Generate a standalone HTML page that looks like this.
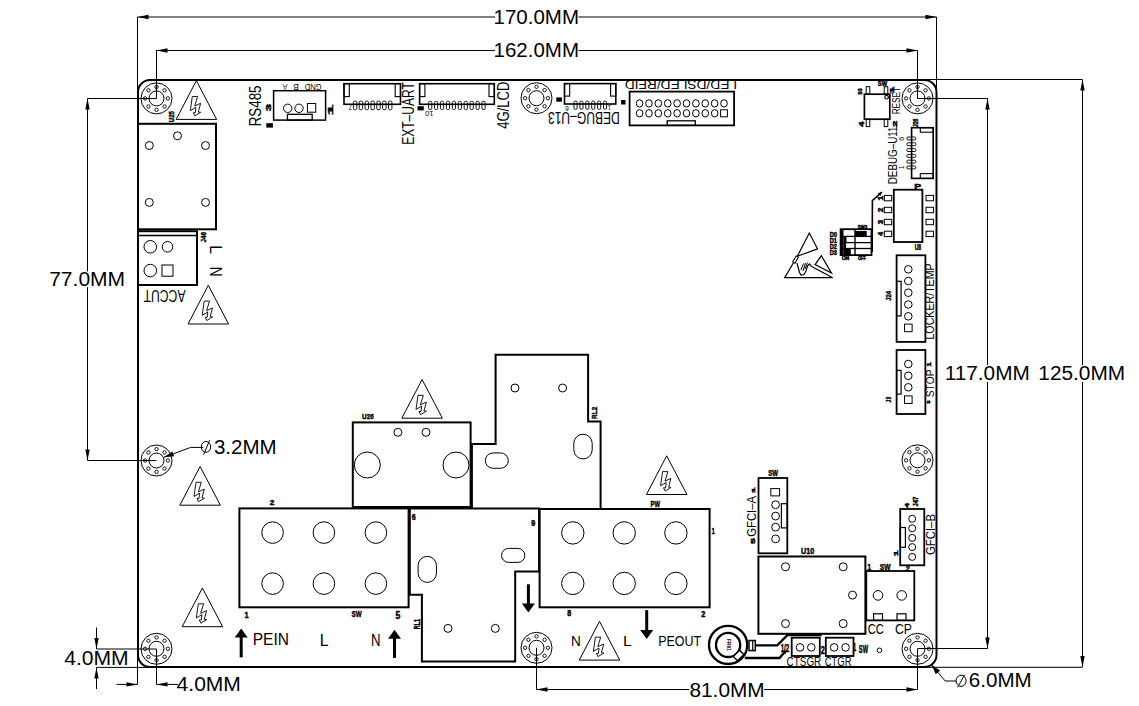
<!DOCTYPE html>
<html><head><meta charset="utf-8"><style>
text{fill:#000;stroke:none;font-family:"Liberation Sans", sans-serif;}

html,body{margin:0;padding:0;background:#fff;}
svg{display:block;}
</style></head><body>
<svg width="1139" height="706" viewBox="0 0 1139 706" fill="#000" stroke="#000">
<g>
<line x1="137.5" y1="17" x2="495" y2="17" stroke-width="1"/>
<line x1="578.5" y1="17" x2="936.5" y2="17" stroke-width="1"/>
<polygon points="137.5,17 148.5,14.8 148.5,19.2" stroke="none" fill="#000"/>
<polygon points="936.5,17 925.5,19.2 925.5,14.8" stroke="none" fill="#000"/>
<line x1="137.5" y1="17" x2="137.5" y2="90" stroke-width="1"/>
<line x1="936.5" y1="17" x2="936.5" y2="92" stroke-width="1"/>
<text x="493.56" y="23.8" font-size="19.72" textLength="85.45" lengthAdjust="spacingAndGlyphs">170.0MM</text>
<line x1="156.5" y1="50.5" x2="495" y2="50.5" stroke-width="1"/>
<line x1="578.5" y1="50.5" x2="917.5" y2="50.5" stroke-width="1"/>
<polygon points="156.5,50.5 167.5,48.3 167.5,52.7" stroke="none" fill="#000"/>
<polygon points="917.5,50.5 906.5,52.7 906.5,48.3" stroke="none" fill="#000"/>
<line x1="156.5" y1="50.5" x2="156.5" y2="98.5" stroke-width="1"/>
<line x1="917.5" y1="50.5" x2="917.5" y2="98.5" stroke-width="1"/>
<text x="493.56" y="56.7" font-size="19.58" textLength="85.45" lengthAdjust="spacingAndGlyphs">162.0MM</text>
<line x1="87.5" y1="98.5" x2="156.5" y2="98.5" stroke-width="1"/>
<line x1="87.5" y1="460.5" x2="156.5" y2="460.5" stroke-width="1"/>
<line x1="87.5" y1="98.5" x2="87.5" y2="271.4" stroke-width="1"/>
<line x1="87.5" y1="287.2" x2="87.5" y2="460.5" stroke-width="1"/>
<polygon points="87.5,98.5 89.7,109.5 85.3,109.5" stroke="none" fill="#000"/>
<polygon points="87.5,460.5 85.3,449.5 89.7,449.5" stroke="none" fill="#000"/>
<text x="49.15" y="285.7" font-size="19.86" textLength="75.99" lengthAdjust="spacingAndGlyphs">77.0MM</text>
<line x1="917.5" y1="98.5" x2="987.5" y2="98.5" stroke-width="1"/>
<line x1="917.5" y1="648.5" x2="987.5" y2="648.5" stroke-width="1"/>
<line x1="987.5" y1="98.5" x2="987.5" y2="365" stroke-width="1"/>
<line x1="987.5" y1="382" x2="987.5" y2="648.5" stroke-width="1"/>
<polygon points="987.5,98.5 989.7,109.5 985.3,109.5" stroke="none" fill="#000"/>
<polygon points="987.5,648.5 985.3,637.5 989.7,637.5" stroke="none" fill="#000"/>
<line x1="925" y1="79.5" x2="1082.5" y2="79.5" stroke-width="1"/>
<line x1="925" y1="667.3" x2="1082.5" y2="667.3" stroke-width="1"/>
<line x1="1082.5" y1="79.5" x2="1082.5" y2="365" stroke-width="1"/>
<line x1="1082.5" y1="382" x2="1082.5" y2="667" stroke-width="1"/>
<polygon points="1082.5,79.5 1084.7,90.5 1080.3,90.5" stroke="none" fill="#000"/>
<polygon points="1082.5,667 1080.3,656 1084.7,656" stroke="none" fill="#000"/>
<text x="944.74" y="379.9" font-size="20" textLength="85.01" lengthAdjust="spacingAndGlyphs">117.0MM</text>
<text x="1038.34" y="379.9" font-size="20" textLength="86.8" lengthAdjust="spacingAndGlyphs">125.0MM</text>
<line x1="96.5" y1="649" x2="156.5" y2="649" stroke-width="1"/>
<line x1="96.5" y1="667.4" x2="152" y2="667.4" stroke-width="1"/>
<line x1="96.5" y1="627.5" x2="96.5" y2="649" stroke-width="1"/>
<line x1="96.5" y1="667.5" x2="96.5" y2="689" stroke-width="1"/>
<polygon points="96.5,649 94.3,638 98.7,638" stroke="none" fill="#000"/>
<polygon points="96.5,667.5 98.7,678.5 94.3,678.5" stroke="none" fill="#000"/>
<text x="64.18" y="664.61" font-size="19.44" textLength="64.54" lengthAdjust="spacingAndGlyphs">4.0MM</text>
<line x1="137.5" y1="650" x2="137.5" y2="684.4" stroke-width="1"/>
<line x1="156.5" y1="649" x2="156.5" y2="684.4" stroke-width="1"/>
<line x1="116.5" y1="684.4" x2="137.5" y2="684.4" stroke-width="1"/>
<line x1="156.5" y1="684.4" x2="178" y2="684.4" stroke-width="1"/>
<polygon points="137.5,684.4 126.5,686.6 126.5,682.2" stroke="none" fill="#000"/>
<polygon points="156.5,684.4 167.5,682.2 167.5,686.6" stroke="none" fill="#000"/>
<text x="176.58" y="690.7" font-size="20" textLength="64.33" lengthAdjust="spacingAndGlyphs">4.0MM</text>
<line x1="536.5" y1="647.8" x2="536.5" y2="689.5" stroke-width="1"/>
<line x1="917.5" y1="648.8" x2="917.5" y2="689.5" stroke-width="1"/>
<line x1="536.5" y1="689.5" x2="689" y2="689.5" stroke-width="1"/>
<line x1="764" y1="689.5" x2="917.5" y2="689.5" stroke-width="1"/>
<polygon points="536.5,689.5 547.5,687.3 547.5,691.7" stroke="none" fill="#000"/>
<polygon points="917.5,689.5 906.5,691.7 906.5,687.3" stroke="none" fill="#000"/>
<text x="689.46" y="696.9" font-size="20" textLength="75.25" lengthAdjust="spacingAndGlyphs">81.0MM</text>
<polygon points="163.9,457.3 172.37,451.39 174.18,456.26" stroke="none" fill="#000"/>
<polyline points="163.9,457.3 190.6,447.4 203.3,447.4" stroke-width="1" fill="none"/>
<ellipse cx="206" cy="446.9" rx="4.7" ry="5.4" stroke-width="1" fill="none"/>
<line x1="203.6" y1="454.8" x2="209.6" y2="440.2" stroke-width="1"/>
<text x="213.98" y="453.7" font-size="19.58" textLength="62.69" lengthAdjust="spacingAndGlyphs">3.2MM</text>
<polygon points="931.5,664.7 940.08,670.55 935.79,674.16" stroke="none" fill="#000"/>
<polyline points="931.5,664.7 945.2,681 956.2,681" stroke-width="1" fill="none"/>
<ellipse cx="961.1" cy="680.8" rx="5" ry="5.6" stroke-width="1" fill="none"/>
<line x1="957.6" y1="687.4" x2="964.6" y2="674.7" stroke-width="1"/>
<text x="968.87" y="687.4" font-size="19.72" textLength="62.8" lengthAdjust="spacingAndGlyphs">6.0MM</text>
<rect x="138" y="80" width="798.5" height="587" rx="12" stroke-width="2" fill="none"/>
<circle cx="156.5" cy="98.4" r="15.5" stroke-width="1" fill="none"/>
<circle cx="156.5" cy="98.4" r="7.5" stroke-width="1" fill="none"/>
<circle cx="167.9" cy="98.4" r="1.7" stroke-width="0.9" fill="none"/>
<circle cx="164.56" cy="106.46" r="1.7" stroke-width="0.9" fill="none"/>
<circle cx="156.5" cy="109.8" r="1.7" stroke-width="0.9" fill="none"/>
<circle cx="148.44" cy="106.46" r="1.7" stroke-width="0.9" fill="none"/>
<circle cx="145.1" cy="98.4" r="1.7" stroke-width="0.9" fill="none"/>
<circle cx="148.44" cy="90.34" r="1.7" stroke-width="0.9" fill="none"/>
<circle cx="156.5" cy="87" r="1.7" stroke-width="0.9" fill="none"/>
<circle cx="164.56" cy="90.34" r="1.7" stroke-width="0.9" fill="none"/>
<circle cx="536.5" cy="98.2" r="15.5" stroke-width="1" fill="none"/>
<circle cx="536.5" cy="98.2" r="7.5" stroke-width="1" fill="none"/>
<circle cx="547.9" cy="98.2" r="1.7" stroke-width="0.9" fill="none"/>
<circle cx="544.56" cy="106.26" r="1.7" stroke-width="0.9" fill="none"/>
<circle cx="536.5" cy="109.6" r="1.7" stroke-width="0.9" fill="none"/>
<circle cx="528.44" cy="106.26" r="1.7" stroke-width="0.9" fill="none"/>
<circle cx="525.1" cy="98.2" r="1.7" stroke-width="0.9" fill="none"/>
<circle cx="528.44" cy="90.14" r="1.7" stroke-width="0.9" fill="none"/>
<circle cx="536.5" cy="86.8" r="1.7" stroke-width="0.9" fill="none"/>
<circle cx="544.56" cy="90.14" r="1.7" stroke-width="0.9" fill="none"/>
<circle cx="917.5" cy="98.4" r="15.5" stroke-width="1" fill="none"/>
<circle cx="917.5" cy="98.4" r="7.5" stroke-width="1" fill="none"/>
<circle cx="928.9" cy="98.4" r="1.7" stroke-width="0.9" fill="none"/>
<circle cx="925.56" cy="106.46" r="1.7" stroke-width="0.9" fill="none"/>
<circle cx="917.5" cy="109.8" r="1.7" stroke-width="0.9" fill="none"/>
<circle cx="909.44" cy="106.46" r="1.7" stroke-width="0.9" fill="none"/>
<circle cx="906.1" cy="98.4" r="1.7" stroke-width="0.9" fill="none"/>
<circle cx="909.44" cy="90.34" r="1.7" stroke-width="0.9" fill="none"/>
<circle cx="917.5" cy="87" r="1.7" stroke-width="0.9" fill="none"/>
<circle cx="925.56" cy="90.34" r="1.7" stroke-width="0.9" fill="none"/>
<circle cx="156.5" cy="460.5" r="15.5" stroke-width="1" fill="none"/>
<circle cx="156.5" cy="460.5" r="7.5" stroke-width="1" fill="none"/>
<circle cx="167.9" cy="460.5" r="1.7" stroke-width="0.9" fill="none"/>
<circle cx="164.56" cy="468.56" r="1.7" stroke-width="0.9" fill="none"/>
<circle cx="156.5" cy="471.9" r="1.7" stroke-width="0.9" fill="none"/>
<circle cx="148.44" cy="468.56" r="1.7" stroke-width="0.9" fill="none"/>
<circle cx="145.1" cy="460.5" r="1.7" stroke-width="0.9" fill="none"/>
<circle cx="148.44" cy="452.44" r="1.7" stroke-width="0.9" fill="none"/>
<circle cx="156.5" cy="449.1" r="1.7" stroke-width="0.9" fill="none"/>
<circle cx="164.56" cy="452.44" r="1.7" stroke-width="0.9" fill="none"/>
<circle cx="917.5" cy="460.3" r="15.5" stroke-width="1" fill="none"/>
<circle cx="917.5" cy="460.3" r="7.5" stroke-width="1" fill="none"/>
<circle cx="928.9" cy="460.3" r="1.7" stroke-width="0.9" fill="none"/>
<circle cx="925.56" cy="468.36" r="1.7" stroke-width="0.9" fill="none"/>
<circle cx="917.5" cy="471.7" r="1.7" stroke-width="0.9" fill="none"/>
<circle cx="909.44" cy="468.36" r="1.7" stroke-width="0.9" fill="none"/>
<circle cx="906.1" cy="460.3" r="1.7" stroke-width="0.9" fill="none"/>
<circle cx="909.44" cy="452.24" r="1.7" stroke-width="0.9" fill="none"/>
<circle cx="917.5" cy="448.9" r="1.7" stroke-width="0.9" fill="none"/>
<circle cx="925.56" cy="452.24" r="1.7" stroke-width="0.9" fill="none"/>
<circle cx="156.5" cy="648.8" r="15.5" stroke-width="1" fill="none"/>
<circle cx="156.5" cy="648.8" r="7.5" stroke-width="1" fill="none"/>
<circle cx="167.9" cy="648.8" r="1.7" stroke-width="0.9" fill="none"/>
<circle cx="164.56" cy="656.86" r="1.7" stroke-width="0.9" fill="none"/>
<circle cx="156.5" cy="660.2" r="1.7" stroke-width="0.9" fill="none"/>
<circle cx="148.44" cy="656.86" r="1.7" stroke-width="0.9" fill="none"/>
<circle cx="145.1" cy="648.8" r="1.7" stroke-width="0.9" fill="none"/>
<circle cx="148.44" cy="640.74" r="1.7" stroke-width="0.9" fill="none"/>
<circle cx="156.5" cy="637.4" r="1.7" stroke-width="0.9" fill="none"/>
<circle cx="164.56" cy="640.74" r="1.7" stroke-width="0.9" fill="none"/>
<circle cx="536.5" cy="647.8" r="15.5" stroke-width="1" fill="none"/>
<circle cx="536.5" cy="647.8" r="7.5" stroke-width="1" fill="none"/>
<circle cx="547.9" cy="647.8" r="1.7" stroke-width="0.9" fill="none"/>
<circle cx="544.56" cy="655.86" r="1.7" stroke-width="0.9" fill="none"/>
<circle cx="536.5" cy="659.2" r="1.7" stroke-width="0.9" fill="none"/>
<circle cx="528.44" cy="655.86" r="1.7" stroke-width="0.9" fill="none"/>
<circle cx="525.1" cy="647.8" r="1.7" stroke-width="0.9" fill="none"/>
<circle cx="528.44" cy="639.74" r="1.7" stroke-width="0.9" fill="none"/>
<circle cx="536.5" cy="636.4" r="1.7" stroke-width="0.9" fill="none"/>
<circle cx="544.56" cy="639.74" r="1.7" stroke-width="0.9" fill="none"/>
<circle cx="917.5" cy="648.8" r="15.5" stroke-width="1" fill="none"/>
<circle cx="917.5" cy="648.8" r="7.5" stroke-width="1" fill="none"/>
<circle cx="928.9" cy="648.8" r="1.7" stroke-width="0.9" fill="none"/>
<circle cx="925.56" cy="656.86" r="1.7" stroke-width="0.9" fill="none"/>
<circle cx="917.5" cy="660.2" r="1.7" stroke-width="0.9" fill="none"/>
<circle cx="909.44" cy="656.86" r="1.7" stroke-width="0.9" fill="none"/>
<circle cx="906.1" cy="648.8" r="1.7" stroke-width="0.9" fill="none"/>
<circle cx="909.44" cy="640.74" r="1.7" stroke-width="0.9" fill="none"/>
<circle cx="917.5" cy="637.4" r="1.7" stroke-width="0.9" fill="none"/>
<circle cx="925.56" cy="640.74" r="1.7" stroke-width="0.9" fill="none"/>
<polygon points="196.4,80.7 176.15,119.4 216.65,119.4" stroke-width="1" fill="none"/>
<polygon points="192.3,96.5 197.6,96.5 194.7,106 200.6,103.3 198.3,112.1 200.7,112.3 194.9,115.9 193.3,112.7 195.3,112.7 195.9,107.3 190.3,110.7" stroke-width="0.9" fill="none"/>
<polygon points="208.3,285.3 188.05,324 228.55,324" stroke-width="1" fill="none"/>
<polygon points="204.2,301.1 209.5,301.1 206.6,310.6 212.5,307.9 210.2,316.7 212.6,316.9 206.8,320.5 205.2,317.3 207.2,317.3 207.8,311.9 202.2,315.3" stroke-width="0.9" fill="none"/>
<polygon points="200.1,466.5 179.85,505.2 220.35,505.2" stroke-width="1" fill="none"/>
<polygon points="196,482.3 201.3,482.3 198.4,491.8 204.3,489.1 202,497.9 204.4,498.1 198.6,501.7 197,498.5 199,498.5 199.6,493.1 194,496.5" stroke-width="0.9" fill="none"/>
<polygon points="202.4,588 182.15,626.7 222.65,626.7" stroke-width="1" fill="none"/>
<polygon points="198.3,603.8 203.6,603.8 200.7,613.3 206.6,610.6 204.3,619.4 206.7,619.6 200.9,623.2 199.3,620 201.3,620 201.9,614.6 196.3,618" stroke-width="0.9" fill="none"/>
<polygon points="422.1,379.5 401.85,418.2 442.35,418.2" stroke-width="1" fill="none"/>
<polygon points="418,395.3 423.3,395.3 420.4,404.8 426.3,402.1 424,410.9 426.4,411.1 420.6,414.7 419,411.5 421,411.5 421.6,406.1 416,409.5" stroke-width="0.9" fill="none"/>
<polygon points="666.7,455.8 646.45,494.5 686.95,494.5" stroke-width="1" fill="none"/>
<polygon points="662.6,471.6 667.9,471.6 665,481.1 670.9,478.4 668.6,487.2 671,487.4 665.2,491 663.6,487.8 665.6,487.8 666.2,482.4 660.6,485.8" stroke-width="0.9" fill="none"/>
<polygon points="599.5,621.4 579.25,660.1 619.75,660.1" stroke-width="1" fill="none"/>
<polygon points="595.4,637.2 600.7,637.2 597.8,646.7 603.7,644 601.4,652.8 603.8,653 598,656.6 596.4,653.4 598.4,653.4 599,648 593.4,651.4" stroke-width="0.9" fill="none"/>
<rect x="138" y="123.8" width="78" height="105.5" stroke-width="2" fill="none"/>
<circle cx="177.5" cy="135.8" r="4" stroke-width="1" fill="none"/>
<circle cx="149.3" cy="145.5" r="4" stroke-width="1" fill="none"/>
<circle cx="205.5" cy="145.5" r="4" stroke-width="1" fill="none"/>
<circle cx="149.3" cy="202.4" r="4" stroke-width="1" fill="none"/>
<circle cx="205.5" cy="202.4" r="4" stroke-width="1" fill="none"/>
<rect x="138" y="231.2" width="59" height="53.8" stroke-width="2" fill="none"/>
<line x1="138" y1="235.5" x2="197" y2="235.5" stroke-width="1.5"/>
<circle cx="150.3" cy="246.8" r="6.3" stroke-width="1" fill="none"/>
<circle cx="167.5" cy="246.8" r="5.3" stroke-width="1" fill="none"/>
<circle cx="150.3" cy="270.6" r="6.3" stroke-width="1" fill="none"/>
<rect x="162" y="265" width="11" height="11.2" stroke-width="1" fill="none"/>
<text x="0" y="0" font-size="16.9" textLength="41.69" lengthAdjust="spacingAndGlyphs" transform="translate(185.4 290.07) rotate(180)">ACCUT</text>
<text x="0" y="0" font-size="16.48" textLength="40.94" lengthAdjust="spacingAndGlyphs" transform="translate(260.84 126.37) rotate(-90)">RS485</text>
<rect x="273.6" y="90.7" width="52" height="29.4" stroke-width="1.5" fill="none"/>
<circle cx="287.7" cy="108.3" r="4.2" stroke-width="1" fill="none"/>
<circle cx="299" cy="108.3" r="4.2" stroke-width="1" fill="none"/>
<rect x="307.4" y="103.5" width="8.3" height="8.7" stroke-width="1" fill="none"/>
<rect x="287.4" y="114.3" width="24.8" height="5.8" stroke-width="1.3" fill="none"/>
<text x="0" y="0" font-size="8.99" textLength="4.81" lengthAdjust="spacingAndGlyphs" transform="translate(287.4 83.7) rotate(180)">A</text>
<text x="0" y="0" font-size="8.99" textLength="5.49" lengthAdjust="spacingAndGlyphs" transform="translate(298.66 83.7) rotate(180)">B</text>
<text x="0" y="0" font-size="8.73" textLength="16.94" lengthAdjust="spacingAndGlyphs" transform="translate(321.58 83.79) rotate(180)">GND</text>
<rect x="344" y="83.7" width="56.5" height="20.6" stroke-width="1.6" fill="none"/>
<rect x="344" y="83.7" width="5.3" height="12.9" stroke-width="1.1" fill="none"/>
<rect x="395.2" y="83.7" width="5.3" height="12.9" stroke-width="1.1" fill="none"/>
<rect x="353.4" y="101.1" width="3.4" height="8.6" rx="1.2" stroke-width="0.9" fill="none"/>
<rect x="359.25" y="101.1" width="3.4" height="8.6" rx="1.2" stroke-width="0.9" fill="none"/>
<rect x="365.1" y="101.1" width="3.4" height="8.6" rx="1.2" stroke-width="0.9" fill="none"/>
<rect x="370.95" y="101.1" width="3.4" height="8.6" rx="1.2" stroke-width="0.9" fill="none"/>
<rect x="376.8" y="101.1" width="3.4" height="8.6" rx="1.2" stroke-width="0.9" fill="none"/>
<rect x="382.65" y="101.1" width="3.4" height="8.6" rx="1.2" stroke-width="0.9" fill="none"/>
<rect x="388.5" y="101.1" width="3.4" height="8.6" rx="1.2" stroke-width="0.9" fill="none"/>
<text x="0" y="0" font-size="16.29" textLength="62.5" lengthAdjust="spacingAndGlyphs" transform="translate(413.64 144.76) rotate(-90)">EXT–UART</text>
<rect x="419.6" y="83.7" width="74.7" height="20.6" stroke-width="1.6" fill="none"/>
<rect x="419.6" y="83.7" width="5.3" height="12.9" stroke-width="1.1" fill="none"/>
<rect x="489" y="83.7" width="5.3" height="12.9" stroke-width="1.1" fill="none"/>
<rect x="428.6" y="101.3" width="3.2" height="8.2" rx="1.2" stroke-width="0.9" fill="none"/>
<rect x="434.53" y="101.3" width="3.2" height="8.2" rx="1.2" stroke-width="0.9" fill="none"/>
<rect x="440.46" y="101.3" width="3.2" height="8.2" rx="1.2" stroke-width="0.9" fill="none"/>
<rect x="446.39" y="101.3" width="3.2" height="8.2" rx="1.2" stroke-width="0.9" fill="none"/>
<rect x="452.32" y="101.3" width="3.2" height="8.2" rx="1.2" stroke-width="0.9" fill="none"/>
<rect x="458.25" y="101.3" width="3.2" height="8.2" rx="1.2" stroke-width="0.9" fill="none"/>
<rect x="464.18" y="101.3" width="3.2" height="8.2" rx="1.2" stroke-width="0.9" fill="none"/>
<rect x="470.11" y="101.3" width="3.2" height="8.2" rx="1.2" stroke-width="0.9" fill="none"/>
<rect x="476.04" y="101.3" width="3.2" height="8.2" rx="1.2" stroke-width="0.9" fill="none"/>
<rect x="481.97" y="101.3" width="3.2" height="8.2" rx="1.2" stroke-width="0.9" fill="none"/>
<text x="0" y="0" font-size="15.71" textLength="47.28" lengthAdjust="spacingAndGlyphs" transform="translate(508.59 128.86) rotate(-90)">4G/LCD</text>
<rect x="417.5" y="106.2" width="6.3" height="4.2" stroke="none" fill="#000"/>
<rect x="564.5" y="83.6" width="51.3" height="20.4" stroke-width="1.6" fill="none"/>
<rect x="564.5" y="83.6" width="5.2" height="12.5" stroke-width="1.1" fill="none"/>
<rect x="610.6" y="83.6" width="5.2" height="12.5" stroke-width="1.1" fill="none"/>
<rect x="574" y="101.1" width="3.1" height="8.2" rx="1.2" stroke-width="0.9" fill="none"/>
<rect x="579.9" y="101.1" width="3.1" height="8.2" rx="1.2" stroke-width="0.9" fill="none"/>
<rect x="585.8" y="101.1" width="3.1" height="8.2" rx="1.2" stroke-width="0.9" fill="none"/>
<rect x="591.7" y="101.1" width="3.1" height="8.2" rx="1.2" stroke-width="0.9" fill="none"/>
<rect x="597.6" y="101.1" width="3.1" height="8.2" rx="1.2" stroke-width="0.9" fill="none"/>
<rect x="603.5" y="101.1" width="3.1" height="8.2" rx="1.2" stroke-width="0.9" fill="none"/>
<rect x="556.3" y="97.4" width="5.6" height="4.3" stroke="none" fill="#000"/>
<text x="0" y="0" font-size="15.63" textLength="71.67" lengthAdjust="spacingAndGlyphs" transform="translate(619.66 112.16) rotate(180)">DEBUG–U13</text>
<rect x="629.6" y="91.6" width="104.5" height="33.8" stroke-width="1.8" fill="none"/>
<ellipse cx="639.6" cy="103.4" rx="3.3" ry="3.7" stroke-width="1" fill="none"/>
<ellipse cx="639.6" cy="113.3" rx="3.3" ry="3.7" stroke-width="1" fill="none"/>
<ellipse cx="648.98" cy="103.4" rx="3.3" ry="3.7" stroke-width="1" fill="none"/>
<ellipse cx="648.98" cy="113.3" rx="3.3" ry="3.7" stroke-width="1" fill="none"/>
<ellipse cx="658.36" cy="103.4" rx="3.3" ry="3.7" stroke-width="1" fill="none"/>
<ellipse cx="658.36" cy="113.3" rx="3.3" ry="3.7" stroke-width="1" fill="none"/>
<ellipse cx="667.74" cy="103.4" rx="3.3" ry="3.7" stroke-width="1" fill="none"/>
<ellipse cx="667.74" cy="113.3" rx="3.3" ry="3.7" stroke-width="1" fill="none"/>
<ellipse cx="677.12" cy="103.4" rx="3.3" ry="3.7" stroke-width="1" fill="none"/>
<ellipse cx="677.12" cy="113.3" rx="3.3" ry="3.7" stroke-width="1" fill="none"/>
<ellipse cx="686.5" cy="103.4" rx="3.3" ry="3.7" stroke-width="1" fill="none"/>
<ellipse cx="686.5" cy="113.3" rx="3.3" ry="3.7" stroke-width="1" fill="none"/>
<ellipse cx="695.88" cy="103.4" rx="3.3" ry="3.7" stroke-width="1" fill="none"/>
<ellipse cx="695.88" cy="113.3" rx="3.3" ry="3.7" stroke-width="1" fill="none"/>
<ellipse cx="705.26" cy="103.4" rx="3.3" ry="3.7" stroke-width="1" fill="none"/>
<ellipse cx="705.26" cy="113.3" rx="3.3" ry="3.7" stroke-width="1" fill="none"/>
<ellipse cx="714.64" cy="103.4" rx="3.3" ry="3.7" stroke-width="1" fill="none"/>
<ellipse cx="714.64" cy="113.3" rx="3.3" ry="3.7" stroke-width="1" fill="none"/>
<ellipse cx="724.02" cy="103.4" rx="3.3" ry="3.7" stroke-width="1" fill="none"/>
<rect x="720.6" y="109.8" width="6.8" height="7" stroke-width="1" fill="none"/>
<rect x="667.2" y="120.8" width="28.1" height="4.6" stroke-width="1.3" fill="none"/>
<rect x="621.1" y="100" width="4.4" height="4.5" stroke="none" fill="#000"/>
<text x="0" y="0" font-size="13.33" textLength="112.37" lengthAdjust="spacingAndGlyphs" transform="translate(737.1 80.03) rotate(180)">LED/DSLED/RFID</text>
<rect x="864.4" y="94.2" width="25.4" height="25" stroke-width="1.7" fill="none"/>
<rect x="866.2" y="86.7" width="3.6" height="7.5" stroke-width="1" fill="none"/>
<rect x="866.2" y="119.2" width="3.6" height="7.4" stroke-width="1" fill="none"/>
<rect x="884.2" y="86.7" width="3.6" height="7.5" stroke-width="1" fill="none"/>
<rect x="884.2" y="119.2" width="3.6" height="7.4" stroke-width="1" fill="none"/>
<circle cx="886.6" cy="97.2" r="1.8" stroke-width="1.2" fill="none"/>
<text x="0" y="0" font-size="11.69" textLength="27.42" lengthAdjust="spacingAndGlyphs" transform="translate(900.48 114.36) rotate(-90)">RESET</text>
<rect x="911.6" y="127.7" width="21.6" height="50.7" stroke-width="1.6" fill="none"/>
<rect x="920.3" y="127.7" width="12.9" height="4.5" stroke-width="1.1" fill="none"/>
<rect x="920.3" y="173.6" width="12.9" height="4.8" stroke-width="1.1" fill="none"/>
<rect x="906.9" y="137" width="8.9" height="2.9" rx="1" stroke-width="0.9" fill="none"/>
<rect x="906.9" y="142.8" width="8.9" height="2.9" rx="1" stroke-width="0.9" fill="none"/>
<rect x="906.9" y="148.6" width="8.9" height="2.9" rx="1" stroke-width="0.9" fill="none"/>
<rect x="906.9" y="154.4" width="8.9" height="2.9" rx="1" stroke-width="0.9" fill="none"/>
<rect x="906.9" y="160.2" width="8.9" height="2.9" rx="1" stroke-width="0.9" fill="none"/>
<rect x="906.9" y="166" width="8.9" height="2.9" rx="1" stroke-width="0.9" fill="none"/>
<text x="0" y="0" font-size="12.54" textLength="57.86" lengthAdjust="spacingAndGlyphs" transform="translate(897.27 184.29) rotate(-90)">DEBUG–U11</text>
<rect x="893.8" y="189.7" width="28.6" height="52.3" stroke-width="1.8" fill="none"/>
<rect x="884.3" y="195.4" width="7.4" height="5.4" stroke-width="1" fill="none"/>
<rect x="926" y="195.4" width="7.5" height="5.4" stroke-width="1" fill="none"/>
<rect x="884.3" y="207.3" width="7.4" height="5.4" stroke-width="1" fill="none"/>
<rect x="926" y="207.3" width="7.5" height="5.4" stroke-width="1" fill="none"/>
<rect x="884.3" y="219.3" width="7.4" height="5.4" stroke-width="1" fill="none"/>
<rect x="926" y="219.3" width="7.5" height="5.4" stroke-width="1" fill="none"/>
<rect x="884.3" y="231.2" width="7.4" height="5.4" stroke-width="1" fill="none"/>
<rect x="926" y="231.2" width="7.5" height="5.4" stroke-width="1" fill="none"/>
<rect x="840.6" y="229.2" width="30.9" height="25.9" stroke-width="1.8" fill="none"/>
<line x1="855" y1="229.2" x2="855" y2="255.1" stroke-width="1.4"/>
<line x1="840.6" y1="236.4" x2="871.5" y2="236.4" stroke-width="1.3"/>
<line x1="840.6" y1="242.6" x2="871.5" y2="242.6" stroke-width="1.3"/>
<line x1="840.6" y1="248.5" x2="871.5" y2="248.5" stroke-width="1.3"/>
<rect x="840.6" y="229.2" width="2.9" height="25.9" stroke="none" fill="#000"/>
<rect x="855" y="231" width="11.7" height="5" stroke="none" fill="#000"/>
<rect x="843.5" y="237" width="3" height="5" stroke="none" fill="#000"/>
<rect x="843.5" y="242.6" width="2.5" height="5.9" stroke="none" fill="#000"/>
<rect x="843.5" y="248.5" width="7.3" height="6.6" stroke="none" fill="#000"/>
<polyline points="872.2,252 872.4,200.7 882,192" stroke-width="1.6" fill="none"/>
<polygon points="882,192 880.24,196.02 877.83,193.35" stroke="none" fill="#000"/>
<polygon points="809.3,233 797.4,256.2 817.5,248.8" stroke-width="1.2" fill="none"/>
<polygon points="821.4,255.7 831.5,273.1 815.1,264.6" stroke-width="1.2" fill="none"/>
<polyline points="793.6,262.5 784.7,277.7 832.7,277.7 811.2,266.2" stroke-width="1.2" fill="none"/>
<g transform="rotate(30 795.5 259.5)"><rect x="794.3" y="256" width="2.6" height="7" stroke-width="1" fill="none"/></g>
<polyline points="797,263 799.5,272.5 801,275 804,274.5 806,271 807.5,266 809.5,264 811.2,266.2" stroke-width="1.2" fill="none"/>
<polyline points="801,270 803.5,263.5" stroke-width="1" fill="none"/>
<polyline points="803,271 805.5,263" stroke-width="1" fill="none"/>
<polyline points="805,269 807.5,262.5" stroke-width="1" fill="none"/>
<rect x="896.6" y="255.3" width="28.8" height="86.6" stroke-width="1.8" fill="none"/>
<circle cx="908.3" cy="269.3" r="3.8" stroke-width="1" fill="none"/>
<circle cx="908.3" cy="281" r="3.8" stroke-width="1" fill="none"/>
<circle cx="908.3" cy="292.7" r="3.8" stroke-width="1" fill="none"/>
<circle cx="908.3" cy="304.5" r="3.8" stroke-width="1" fill="none"/>
<circle cx="908.3" cy="316.3" r="3.8" stroke-width="1" fill="none"/>
<rect x="904.5" y="324.1" width="7.6" height="7.6" stroke-width="1" fill="none"/>
<rect x="896.6" y="281.3" width="4.5" height="34.6" stroke-width="1.2" fill="none"/>
<text x="0" y="0" font-size="13.06" textLength="76.22" lengthAdjust="spacingAndGlyphs" transform="translate(934.47 339.55) rotate(-90)">LOCKER/TEMP</text>
<rect x="896.6" y="350" width="28.8" height="64" stroke-width="1.8" fill="none"/>
<circle cx="908.3" cy="364" r="3.8" stroke-width="1" fill="none"/>
<circle cx="908.3" cy="375.8" r="3.8" stroke-width="1" fill="none"/>
<circle cx="908.3" cy="387.3" r="3.8" stroke-width="1" fill="none"/>
<rect x="904.5" y="395.9" width="7.6" height="7.6" stroke-width="1" fill="none"/>
<rect x="896.6" y="370.4" width="4.5" height="23.7" stroke-width="1.2" fill="none"/>
<text x="0" y="0" font-size="11.41" textLength="27.77" lengthAdjust="spacingAndGlyphs" transform="translate(934.09 397.26) rotate(-90)">STOP</text>
<rect x="352.8" y="422.4" width="117.8" height="84.6" stroke-width="2" fill="none"/>
<circle cx="397.9" cy="432.3" r="4" stroke-width="1" fill="none"/>
<circle cx="426" cy="432.3" r="4" stroke-width="1" fill="none"/>
<circle cx="367.3" cy="465" r="13" stroke-width="1" fill="none"/>
<circle cx="456" cy="465" r="13" stroke-width="1" fill="none"/>
<polyline points="471.9,508.3 471.9,444 495.6,444 495.6,354.8 588.1,354.8 588.1,421.6 600.6,421.6 600.6,508.3" stroke-width="2" fill="none"/>
<circle cx="515" cy="388" r="4" stroke-width="1" fill="none"/>
<circle cx="562.6" cy="388" r="4" stroke-width="1" fill="none"/>
<rect x="485.3" y="452.95" width="23" height="15.3" rx="7.65" stroke-width="1" fill="none"/>
<rect x="573.8" y="434.25" width="18.4" height="24.7" rx="9.2" stroke-width="1" fill="none"/>
<rect x="239.4" y="508.4" width="169.2" height="98.9" stroke-width="2" fill="none"/>
<circle cx="272.6" cy="532.6" r="10.8" stroke-width="1" fill="none"/>
<circle cx="272.6" cy="583.6" r="10.8" stroke-width="1" fill="none"/>
<circle cx="323.9" cy="532.6" r="10.8" stroke-width="1" fill="none"/>
<circle cx="323.9" cy="583.6" r="10.8" stroke-width="1" fill="none"/>
<circle cx="375.9" cy="532.6" r="10.8" stroke-width="1" fill="none"/>
<circle cx="375.9" cy="583.6" r="10.8" stroke-width="1" fill="none"/>
<polyline points="409.8,508.4 409.8,594.7 421.9,594.7 421.9,661.6 515.2,661.6 515.2,571.6 539.1,571.6 539.1,508.4 409.8,508.4" stroke-width="2" fill="none"/>
<rect x="418.15" y="556.4" width="18.3" height="26" rx="9.15" stroke-width="1" fill="none"/>
<rect x="501.55" y="548.4" width="23.3" height="14" rx="7" stroke-width="1" fill="none"/>
<circle cx="448" cy="628.4" r="4" stroke-width="1" fill="none"/>
<circle cx="495.3" cy="628.4" r="4" stroke-width="1" fill="none"/>
<rect x="539.6" y="509" width="170" height="98.3" stroke-width="2" fill="none"/>
<circle cx="572.8" cy="532.9" r="11.2" stroke-width="1" fill="none"/>
<circle cx="572.8" cy="583.4" r="11.2" stroke-width="1" fill="none"/>
<circle cx="624.2" cy="532.9" r="11.2" stroke-width="1" fill="none"/>
<circle cx="624.2" cy="583.4" r="11.2" stroke-width="1" fill="none"/>
<circle cx="675.9" cy="532.9" r="11.2" stroke-width="1" fill="none"/>
<circle cx="675.9" cy="583.4" r="11.2" stroke-width="1" fill="none"/>
<line x1="241.2" y1="657.4" x2="241.2" y2="636.6" stroke-width="3"/>
<polygon points="241.2,628.6 234.7,637.6 247.7,637.6" stroke="none" fill="#000"/>
<line x1="394.5" y1="657.9" x2="394.5" y2="637.8" stroke-width="3"/>
<polygon points="394.5,629.8 388,638.8 401,638.8" stroke="none" fill="#000"/>
<line x1="528.4" y1="584.3" x2="528.4" y2="604.4" stroke-width="3"/>
<polygon points="528.4,612.4 521.9,603.4 534.9,603.4" stroke="none" fill="#000"/>
<line x1="646.7" y1="610.1" x2="646.7" y2="631.1" stroke-width="3"/>
<polygon points="646.7,639.1 640.2,630.1 653.2,630.1" stroke="none" fill="#000"/>
<text x="252.76" y="644.7" font-size="16.38" textLength="36.25" lengthAdjust="spacingAndGlyphs">PEIN</text>
<text x="319.74" y="645.8" font-size="16.23" textLength="8.75" lengthAdjust="spacingAndGlyphs">L</text>
<text x="370.94" y="645.8" font-size="16.23" textLength="9.54" lengthAdjust="spacingAndGlyphs">N</text>
<text x="570.91" y="646.4" font-size="15.36" textLength="9.8" lengthAdjust="spacingAndGlyphs">N</text>
<text x="622.94" y="646.4" font-size="15.36" textLength="8.75" lengthAdjust="spacingAndGlyphs">L</text>
<text x="658.2" y="646.25" font-size="14.93" textLength="43.05" lengthAdjust="spacingAndGlyphs">PEOUT</text>
<rect x="758.5" y="478" width="28.8" height="75.3" stroke-width="1.8" fill="none"/>
<rect x="770.8" y="488.6" width="8.8" height="7.3" stroke-width="1" fill="none"/>
<circle cx="775.6" cy="504.7" r="3.9" stroke-width="1" fill="none"/>
<circle cx="775.6" cy="516.1" r="3.9" stroke-width="1" fill="none"/>
<circle cx="775.6" cy="527.2" r="3.9" stroke-width="1" fill="none"/>
<circle cx="775.6" cy="538.9" r="3.9" stroke-width="1" fill="none"/>
<rect x="781.4" y="503.7" width="5.9" height="24.2" stroke-width="1.2" fill="none"/>
<text x="0" y="0" font-size="12.96" textLength="40.89" lengthAdjust="spacingAndGlyphs" transform="translate(755.77 536.77) rotate(-90)">GFCI–A</text>
<rect x="900.2" y="509" width="24.1" height="56.3" stroke-width="1.8" fill="none"/>
<circle cx="912.2" cy="518.8" r="3.5" stroke-width="1" fill="none"/>
<circle cx="912.2" cy="528.3" r="3.5" stroke-width="1" fill="none"/>
<circle cx="912.2" cy="537.9" r="3.5" stroke-width="1" fill="none"/>
<circle cx="912.2" cy="547.1" r="3.5" stroke-width="1" fill="none"/>
<circle cx="912.2" cy="556.9" r="3.5" stroke-width="1" fill="none"/>
<rect x="900.2" y="527.5" width="5.2" height="19.8" stroke-width="1.2" fill="none"/>
<text x="0" y="0" font-size="13.1" textLength="40.96" lengthAdjust="spacingAndGlyphs" transform="translate(934.77 554.97) rotate(-90)">GFCI–B</text>
<rect x="758.4" y="556.5" width="107" height="77.3" stroke-width="2" fill="none"/>
<circle cx="785.5" cy="566.8" r="4" stroke-width="1" fill="none"/>
<circle cx="843.2" cy="566.8" r="4" stroke-width="1" fill="none"/>
<circle cx="852.5" cy="595.1" r="4" stroke-width="1" fill="none"/>
<circle cx="785.5" cy="623.6" r="4" stroke-width="1" fill="none"/>
<circle cx="843.2" cy="623.6" r="4" stroke-width="1" fill="none"/>
<rect x="866.3" y="571" width="48" height="49.4" stroke-width="1.8" fill="none"/>
<circle cx="878" cy="595.4" r="4.8" stroke-width="1" fill="none"/>
<circle cx="901.7" cy="595.4" r="4.8" stroke-width="1" fill="none"/>
<rect x="873.6" y="613.8" width="8.9" height="6.6" stroke-width="1.2" fill="none"/>
<rect x="897" y="613.8" width="9" height="6.6" stroke-width="1.2" fill="none"/>
<text x="867.64" y="634.05" font-size="15.07" textLength="16.31" lengthAdjust="spacingAndGlyphs">CC</text>
<text x="894.89" y="634.05" font-size="15.07" textLength="17.08" lengthAdjust="spacingAndGlyphs">CP</text>
<circle cx="879.5" cy="650.3" r="2.3" stroke-width="1" fill="none"/>
<circle cx="728.1" cy="644.9" r="19.1" stroke-width="2.3" fill="none"/>
<circle cx="728.1" cy="644.9" r="12.1" stroke-width="2.3" fill="none"/>
<rect x="749" y="640.5" width="6.3" height="10.1" stroke-width="1.5" fill="none"/>
<line x1="752.7" y1="640.5" x2="752.7" y2="650.6" stroke-width="1.2"/>
<polyline points="755.3,645.3 777.3,645.3 787.5,635" stroke-width="2.3" fill="none"/>
<line x1="786" y1="635" x2="821.6" y2="635" stroke-width="2.4"/>
<polyline points="744.8,658 779.5,658 785.6,651" stroke-width="2.3" fill="none"/>
<polygon points="786.5,650 785.48,654.35 782.4,651.79" stroke="none" fill="#000"/>
<g transform="rotate(45 728.1 644.9)"><rect x="740" y="640.5" width="6" height="9" stroke-width="1.4" fill="#fff"/></g>
<text x="0" y="0" font-size="5" font-weight="bold" textLength="12" lengthAdjust="spacingAndGlyphs" transform="translate(726.5 639) rotate(90)">FR61</text>
<rect x="791.7" y="637.7" width="28.1" height="18.3" stroke-width="1.8" fill="none"/>
<circle cx="800" cy="647.4" r="3.8" stroke-width="1" fill="none"/>
<circle cx="811.3" cy="647.4" r="3.8" stroke-width="1" fill="none"/>
<rect x="825.8" y="637.7" width="27.7" height="18.3" stroke-width="1.8" fill="none"/>
<circle cx="834.1" cy="647.4" r="3.8" stroke-width="1" fill="none"/>
<circle cx="845.6" cy="647.4" r="3.8" stroke-width="1" fill="none"/>
<text x="786.61" y="666.08" font-size="12.11" textLength="34.64" lengthAdjust="spacingAndGlyphs">CTSGR</text>
<text x="824.73" y="666.08" font-size="12.11" textLength="26.72" lengthAdjust="spacingAndGlyphs">CTGR</text>
<text x="0" y="0" font-size="7.54" textLength="3.54" lengthAdjust="spacingAndGlyphs" transform="translate(352.32 105.1) rotate(180)">7</text>
<text x="0" y="0" font-size="6.76" textLength="8.34" lengthAdjust="spacingAndGlyphs" transform="translate(433.46 111.07) rotate(180)">10</text>
<text x="0" y="0" font-size="6.34" textLength="3.59" lengthAdjust="spacingAndGlyphs" transform="translate(568.82 106.06) rotate(180)">6</text>
<text x="0" y="0" font-size="7.25" textLength="3.2" lengthAdjust="spacingAndGlyphs" transform="translate(610.93 104.5) rotate(180)">1</text>
<text x="0" y="0" font-size="6.9" textLength="4.07" lengthAdjust="spacingAndGlyphs" transform="translate(903.73 140.67) rotate(-90)">6</text>
<text x="0" y="0" font-size="7.1" textLength="3.2" lengthAdjust="spacingAndGlyphs" transform="translate(903.8 169.03) rotate(-90)">1</text>
<text x="0" y="0" font-size="7.89" textLength="11.01" lengthAdjust="spacingAndGlyphs" font-weight="bold" style="stroke:#000;stroke-width:0.45" transform="translate(173.82 122.16) rotate(-90)">U25</text>
<text x="0" y="0" font-size="7.04" textLength="7.3" lengthAdjust="spacingAndGlyphs" font-weight="bold" style="stroke:#000;stroke-width:0.45" transform="translate(271.43 111.33) rotate(-90)">3</text>
<text x="0" y="0" font-size="6.52" textLength="10.65" lengthAdjust="spacingAndGlyphs" font-weight="bold" style="stroke:#000;stroke-width:0.45" transform="translate(333 115.15) rotate(-90)">1</text>
<text x="0" y="0" font-size="5.63" textLength="6.35" lengthAdjust="spacingAndGlyphs" font-weight="bold" style="stroke:#000;stroke-width:0.45" transform="translate(862.44 94.66) rotate(-90)">S3</text>
<text x="877.83" y="85.94" font-size="6.34" textLength="9.18" lengthAdjust="spacingAndGlyphs" font-weight="bold" style="stroke:#000;stroke-width:0.45">SW</text>
<text x="0" y="0" font-size="7.25" textLength="5.2" lengthAdjust="spacingAndGlyphs" font-weight="bold" style="stroke:#000;stroke-width:0.45" transform="translate(863.5 126.64) rotate(-90)">4</text>
<text x="0" y="0" font-size="5.71" textLength="6.37" lengthAdjust="spacingAndGlyphs" font-weight="bold" style="stroke:#000;stroke-width:0.45" transform="translate(896.5 126.9) rotate(-90)">2</text>
<text x="0" y="0" font-size="5.8" textLength="7.1" lengthAdjust="spacingAndGlyphs" font-weight="bold" style="stroke:#000;stroke-width:0.45" transform="translate(894 93.77) rotate(-90)">1</text>
<text x="0" y="0" font-size="6.34" textLength="8.27" lengthAdjust="spacingAndGlyphs" font-weight="bold" style="stroke:#000;stroke-width:0.45" transform="translate(918.44 127.07) rotate(-90)">J26</text>
<text x="914.32" y="188.5" font-size="7.97" textLength="7.02" lengthAdjust="spacingAndGlyphs" font-weight="bold" style="stroke:#000;stroke-width:0.45">P</text>
<text x="914.7" y="249.92" font-size="8.45" textLength="6.47" lengthAdjust="spacingAndGlyphs" font-weight="bold" style="stroke:#000;stroke-width:0.45">U8</text>
<text x="0" y="0" font-size="7.25" textLength="4.73" lengthAdjust="spacingAndGlyphs" font-weight="bold" style="stroke:#000;stroke-width:0.45" transform="translate(883 200.51) rotate(-90)">1</text>
<text x="0" y="0" font-size="7.14" textLength="4.63" lengthAdjust="spacingAndGlyphs" font-weight="bold" style="stroke:#000;stroke-width:0.45" transform="translate(883 212.29) rotate(-90)">2</text>
<text x="0" y="0" font-size="7.04" textLength="4.49" lengthAdjust="spacingAndGlyphs" font-weight="bold" style="stroke:#000;stroke-width:0.45" transform="translate(882.93 224.2) rotate(-90)">3</text>
<text x="0" y="0" font-size="7.25" textLength="4.16" lengthAdjust="spacingAndGlyphs" font-weight="bold" style="stroke:#000;stroke-width:0.45" transform="translate(883 236.11) rotate(-90)">4</text>
<text x="857.67" y="228.85" font-size="5.35" textLength="9.6" lengthAdjust="spacingAndGlyphs" font-weight="bold" style="stroke:#000;stroke-width:0.45">SW3</text>
<text x="841.7" y="259.75" font-size="4.93" textLength="7.53" lengthAdjust="spacingAndGlyphs" font-weight="bold" style="stroke:#000;stroke-width:0.45">ON</text>
<text x="857.94" y="259.75" font-size="4.93" textLength="8" lengthAdjust="spacingAndGlyphs" font-weight="bold" style="stroke:#000;stroke-width:0.45">OFF</text>
<text x="829.73" y="236.93" font-size="6.76" textLength="7.32" lengthAdjust="spacingAndGlyphs" font-weight="bold" style="stroke:#000;stroke-width:0.45">D0</text>
<text x="829.73" y="242.8" font-size="6.96" textLength="7.23" lengthAdjust="spacingAndGlyphs" font-weight="bold" style="stroke:#000;stroke-width:0.45">D1</text>
<text x="829.73" y="249" font-size="6.86" textLength="7.32" lengthAdjust="spacingAndGlyphs" font-weight="bold" style="stroke:#000;stroke-width:0.45">D2</text>
<text x="829.73" y="254.93" font-size="6.76" textLength="7.29" lengthAdjust="spacingAndGlyphs" font-weight="bold" style="stroke:#000;stroke-width:0.45">D3</text>
<text x="0" y="0" font-size="7.75" textLength="9.74" lengthAdjust="spacingAndGlyphs" font-weight="bold" style="stroke:#000;stroke-width:0.45" transform="translate(890.72 300.69) rotate(-90)">J24</text>
<text x="0" y="0" font-size="4.49" textLength="4.14" lengthAdjust="spacingAndGlyphs" font-weight="bold" style="stroke:#000;stroke-width:0.45" transform="translate(930.5 366.45) rotate(-90)">1</text>
<text x="0" y="0" font-size="4.23" textLength="3.37" lengthAdjust="spacingAndGlyphs" font-weight="bold" style="stroke:#000;stroke-width:0.45" transform="translate(929.96 403.65) rotate(-90)">3</text>
<text x="0" y="0" font-size="7.75" textLength="5.56" lengthAdjust="spacingAndGlyphs" font-weight="bold" style="stroke:#000;stroke-width:0.45" transform="translate(890.72 402.38) rotate(-90)">J3</text>
<text x="0" y="0" font-size="7.75" textLength="10.54" lengthAdjust="spacingAndGlyphs" font-weight="bold" style="stroke:#000;stroke-width:0.45" transform="translate(206.32 242.59) rotate(-90)">J46</text>
<text x="362.12" y="419.42" font-size="7.75" textLength="11.6" lengthAdjust="spacingAndGlyphs" font-weight="bold" style="stroke:#000;stroke-width:0.45">U26</text>
<text x="0" y="0" font-size="7.86" textLength="12.17" lengthAdjust="spacingAndGlyphs" font-weight="bold" style="stroke:#000;stroke-width:0.45" transform="translate(597 418.92) rotate(-90)">RL2</text>
<text x="269.71" y="504.5" font-size="7.86" textLength="4.63" lengthAdjust="spacingAndGlyphs" font-weight="bold" style="stroke:#000;stroke-width:0.45">2</text>
<text x="244.55" y="618" font-size="8.7" textLength="4.14" lengthAdjust="spacingAndGlyphs" font-weight="bold" style="stroke:#000;stroke-width:0.45">1</text>
<text x="351.61" y="616.91" font-size="9.44" textLength="10.09" lengthAdjust="spacingAndGlyphs" font-weight="bold" style="stroke:#000;stroke-width:0.45">SW</text>
<text x="395.44" y="618.9" font-size="10.29" textLength="4.78" lengthAdjust="spacingAndGlyphs" font-weight="bold" style="stroke:#000;stroke-width:0.45">5</text>
<text x="411.75" y="519.92" font-size="8.45" textLength="4.01" lengthAdjust="spacingAndGlyphs" font-weight="bold" style="stroke:#000;stroke-width:0.45">6</text>
<text x="531.25" y="525.92" font-size="8.45" textLength="4.01" lengthAdjust="spacingAndGlyphs" font-weight="bold" style="stroke:#000;stroke-width:0.45">9</text>
<text x="0" y="0" font-size="9.86" textLength="10.29" lengthAdjust="spacingAndGlyphs" font-weight="bold" style="stroke:#000;stroke-width:0.45" transform="translate(419.8 629.15) rotate(-90)">RL1</text>
<text x="650.62" y="507" font-size="8.7" textLength="9.38" lengthAdjust="spacingAndGlyphs" font-weight="bold" style="stroke:#000;stroke-width:0.45">PW</text>
<text x="711.68" y="534" font-size="8.7" textLength="2.96" lengthAdjust="spacingAndGlyphs" font-weight="bold" style="stroke:#000;stroke-width:0.45">1</text>
<text x="567.29" y="616.42" font-size="8.45" textLength="3.93" lengthAdjust="spacingAndGlyphs" font-weight="bold" style="stroke:#000;stroke-width:0.45">8</text>
<text x="701.24" y="616.5" font-size="8.57" textLength="4.06" lengthAdjust="spacingAndGlyphs" font-weight="bold" style="stroke:#000;stroke-width:0.45">2</text>
<text x="768.32" y="475.92" font-size="8.45" textLength="9.69" lengthAdjust="spacingAndGlyphs" font-weight="bold" style="stroke:#000;stroke-width:0.45">SW</text>
<text x="0" y="0" font-size="4.35" textLength="5.92" lengthAdjust="spacingAndGlyphs" font-weight="bold" style="stroke:#000;stroke-width:0.45" transform="translate(755 493.14) rotate(-90)">1</text>
<text x="0" y="0" font-size="5" textLength="5.56" lengthAdjust="spacingAndGlyphs" font-weight="bold" style="stroke:#000;stroke-width:0.45" transform="translate(755.45 543.8) rotate(-90)">5</text>
<text x="0" y="0" font-size="6.43" textLength="9.85" lengthAdjust="spacingAndGlyphs" font-weight="bold" style="stroke:#000;stroke-width:0.45" transform="translate(917.94 506.59) rotate(-90)">J47</text>
<text x="0" y="0" font-size="5.8" textLength="4.68" lengthAdjust="spacingAndGlyphs" font-weight="bold" style="stroke:#000;stroke-width:0.45" transform="translate(908.5 507.63) rotate(-90)">4</text>
<text x="0" y="0" font-size="5.8" textLength="5.92" lengthAdjust="spacingAndGlyphs" font-weight="bold" style="stroke:#000;stroke-width:0.45" transform="translate(897.5 556.14) rotate(-90)">1</text>
<text x="801.07" y="554.42" font-size="8.45" textLength="13.22" lengthAdjust="spacingAndGlyphs" font-weight="bold" style="stroke:#000;stroke-width:0.45">U10</text>
<text x="867.62" y="570" font-size="8.7" textLength="3.55" lengthAdjust="spacingAndGlyphs" font-weight="bold" style="stroke:#000;stroke-width:0.45">1</text>
<text x="879.8" y="569.91" font-size="9.15" textLength="10.71" lengthAdjust="spacingAndGlyphs" font-weight="bold" style="stroke:#000;stroke-width:0.45">SW</text>
<text x="905.74" y="571" font-size="7.14" textLength="4.06" lengthAdjust="spacingAndGlyphs" font-weight="bold" style="stroke:#000;stroke-width:0.45">2</text>
<text x="780.63" y="651.77" font-size="11.41" textLength="8.62" lengthAdjust="spacingAndGlyphs" font-weight="bold" style="stroke:#000;stroke-width:0.45">1/2</text>
<text x="820.74" y="654" font-size="10.71" textLength="4.06" lengthAdjust="spacingAndGlyphs" font-weight="bold" style="stroke:#000;stroke-width:0.45">2</text>
<text x="853.18" y="651" font-size="11.59" textLength="2.96" lengthAdjust="spacingAndGlyphs" font-weight="bold" style="stroke:#000;stroke-width:0.45">1</text>
<text x="858.83" y="653.39" font-size="11.27" textLength="9.18" lengthAdjust="spacingAndGlyphs" font-weight="bold" style="stroke:#000;stroke-width:0.45">SW</text>
<rect x="266.3" y="123.2" width="6.6" height="4.4" stroke="none" fill="#000"/>
<text x="0" y="0" font-size="15.8" textLength="8.75" lengthAdjust="spacingAndGlyphs" transform="translate(209.5 245.14) rotate(90)">L</text>
<text x="0" y="0" font-size="15.8" textLength="9.8" lengthAdjust="spacingAndGlyphs" transform="translate(209.5 266.81) rotate(90)">N</text>
</g>
</svg>
</body></html>
